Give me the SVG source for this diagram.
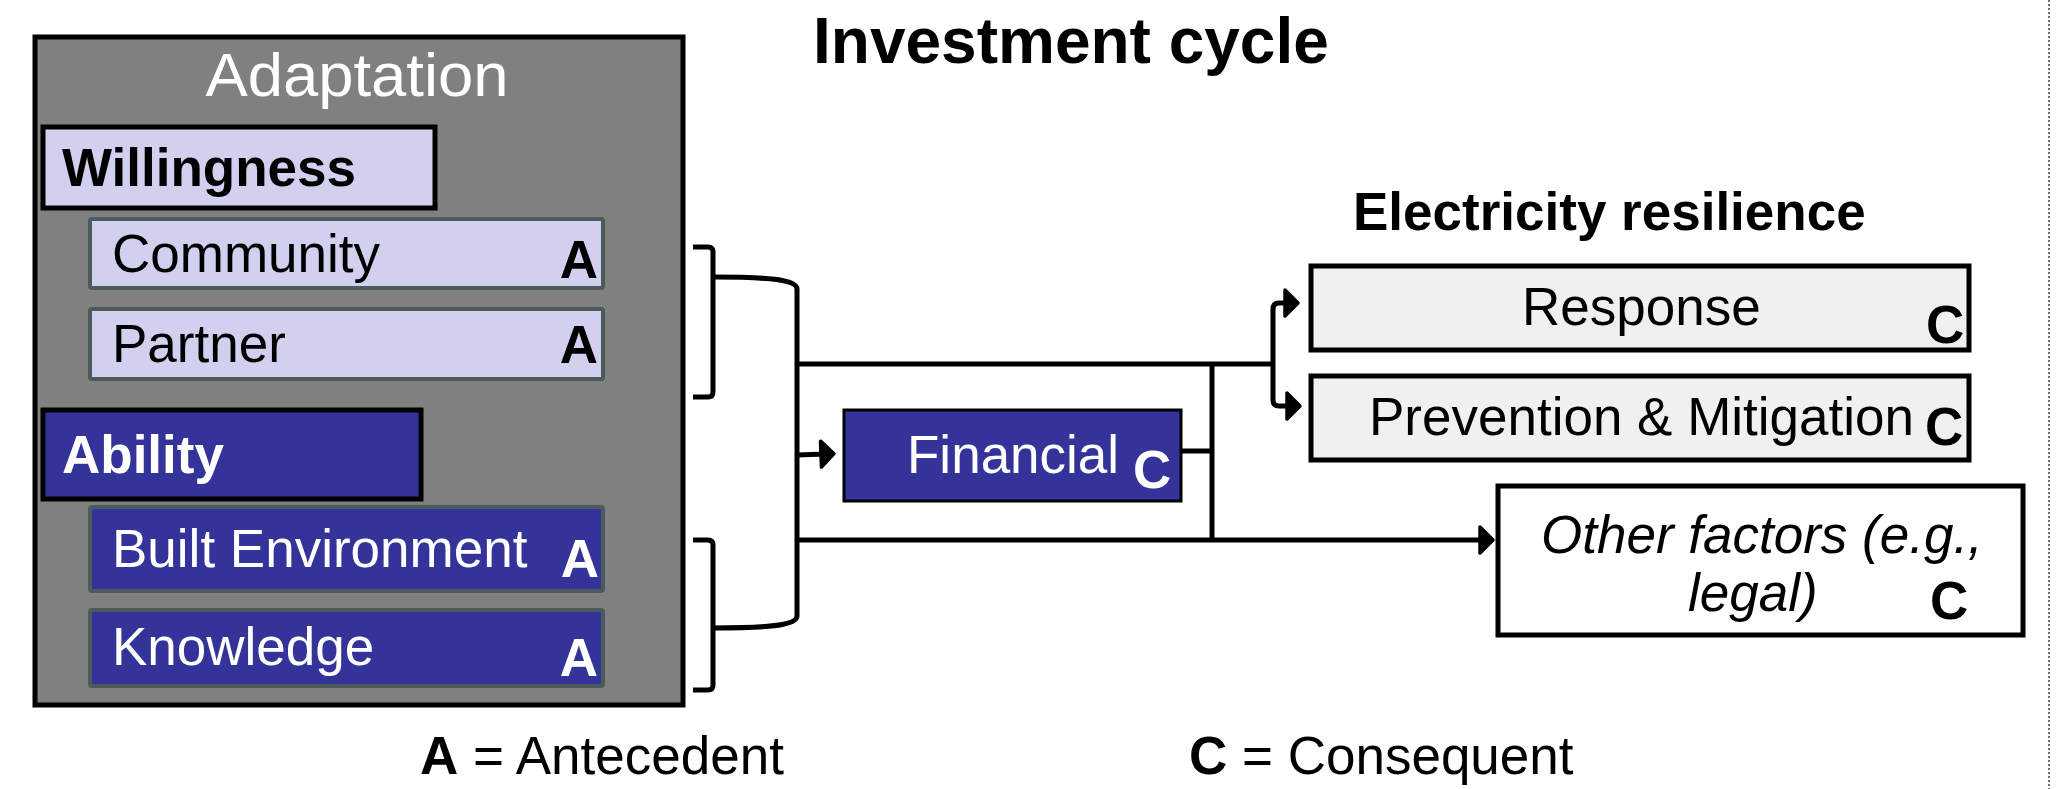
<svg xmlns="http://www.w3.org/2000/svg" width="2056" height="789" viewBox="0 0 2056 789">
<style>
text{font-family:"Liberation Sans",Arial,sans-serif;font-size:53px;fill:#000}
.b{font-weight:bold}
.w{fill:#fff}
.i{font-style:italic}
.lav{fill:#d1d1ef}
.blue{fill:#333399}
.inner{stroke:#4b5b5b;stroke-width:4}
.blk{stroke:#000;stroke-width:5}
.conn{fill:none;stroke:#000;stroke-width:5;stroke-linejoin:round}
</style>
<defs>
<marker id="ah" markerUnits="userSpaceOnUse" markerWidth="20" markerHeight="32" viewBox="0 0 20 32" refX="7" refY="16" orient="auto">
<path d="M3,3 L16,16 L3,29 Z" fill="#000" stroke="#000" stroke-width="3.5" stroke-linejoin="round"/>
</marker>
</defs>
<rect width="2056" height="789" fill="#fff"/>
<line x1="2049" y1="0" x2="2049" y2="789" stroke="#444" stroke-width="1.5" stroke-dasharray="2 2"/>
<text x="813" y="63" class="b" style="font-size:64px">Investment cycle</text>

<g id="adaptation">
<rect x="35" y="37" width="648" height="668" fill="#808080" stroke="#000" stroke-width="5"/>
<text x="357" y="96" class="w" text-anchor="middle" style="font-size:62px" textLength="303" lengthAdjust="spacingAndGlyphs">Adaptation</text>
</g>
<g id="willingness">
<rect x="43" y="127" width="392" height="81" class="lav blk"/>
<text x="62" y="186" class="b">Willingness</text>
</g>
<g id="community">
<rect x="90" y="219" width="513" height="69" rx="2" class="lav inner"/>
<text x="112" y="272">Community</text>
<text x="598" y="278" class="b" text-anchor="end">A</text>
</g>
<g id="partner">
<rect x="90" y="309" width="513" height="70" rx="2" class="lav inner"/>
<text x="112" y="362">Partner</text>
<text x="598" y="363" class="b" text-anchor="end">A</text>
</g>
<g id="ability">
<rect x="43" y="410" width="378" height="89" class="blue blk"/>
<text x="62" y="473" class="b w">Ability</text>
</g>
<g id="built-environment">
<rect x="90" y="507" width="513" height="84" rx="2" class="blue inner"/>
<text x="112" y="567" class="w">Built Environment</text>
<text x="599" y="577" class="b w" text-anchor="end">A</text>
</g>
<g id="knowledge">
<rect x="90" y="610" width="513" height="76" rx="2" class="blue inner"/>
<text x="112" y="665" class="w">Knowledge</text>
<text x="598" y="676" class="b w" text-anchor="end">A</text>
</g>
<g id="financial">
<rect x="844" y="410" width="337" height="91" class="blue" stroke="#000" stroke-width="3"/>
<text x="907" y="473" class="w">Financial</text>
<text x="1133" y="488" class="b w">C</text>
</g>
<text x="1353" y="230" class="b">Electricity resilience</text>
<g id="response">
<rect x="1311" y="266" width="658" height="84" fill="#f0f0f0" class="blk"/>
<text x="1522" y="325">Response</text>
<text x="1926" y="343" class="b">C</text>
</g>
<g id="prevention">
<rect x="1311" y="376" width="658" height="84" fill="#f0f0f0" class="blk"/>
<text x="1369" y="435">Prevention &amp; Mitigation</text>
<text x="1925" y="445" class="b">C</text>
</g>
<g id="other-factors">
<rect x="1498" y="486" width="525" height="149" fill="#fff" class="blk"/>
<text x="1541" y="553" class="i">Other factors (e.g.,</text>
<text x="1688" y="611" class="i">legal)</text>
<text x="1930" y="619" class="b">C</text>
</g>

<g id="connectors">
<path class="conn" d="M693,247 L708,247 Q713,247 713,252 L713,392 Q713,397 708,397 L693,397"/>
<path class="conn" d="M693,540 L708,540 Q713,540 713,545 L713,685 Q713,690 708,690 L693,690"/>
<path class="conn" d="M713,277 C765,277 797,279 797,289 L797,616 C797,626 765,628 713,628"/>
<path class="conn" d="M797,364 L1273,364"/>
<path class="conn" d="M1273,364 L1273,309 Q1273,303 1279,303 L1289,303" marker-end="url(#ah)"/>
<path class="conn" d="M1273,364 L1273,400 Q1273,406 1279,406 L1291,406" marker-end="url(#ah)"/>
<path class="conn" d="M797,455 L825,454" marker-end="url(#ah)"/>
<path class="conn" d="M797,540 L1484,540" marker-end="url(#ah)"/>
<path class="conn" d="M1182,451 L1212,451 M1212,364 L1212,540"/>
</g>

<g id="legend">
<text x="420" y="774"><tspan class="b">A</tspan> = Antecedent</text>
<text x="1189" y="774"><tspan class="b">C</tspan> = Consequent</text>
</g>
</svg>
